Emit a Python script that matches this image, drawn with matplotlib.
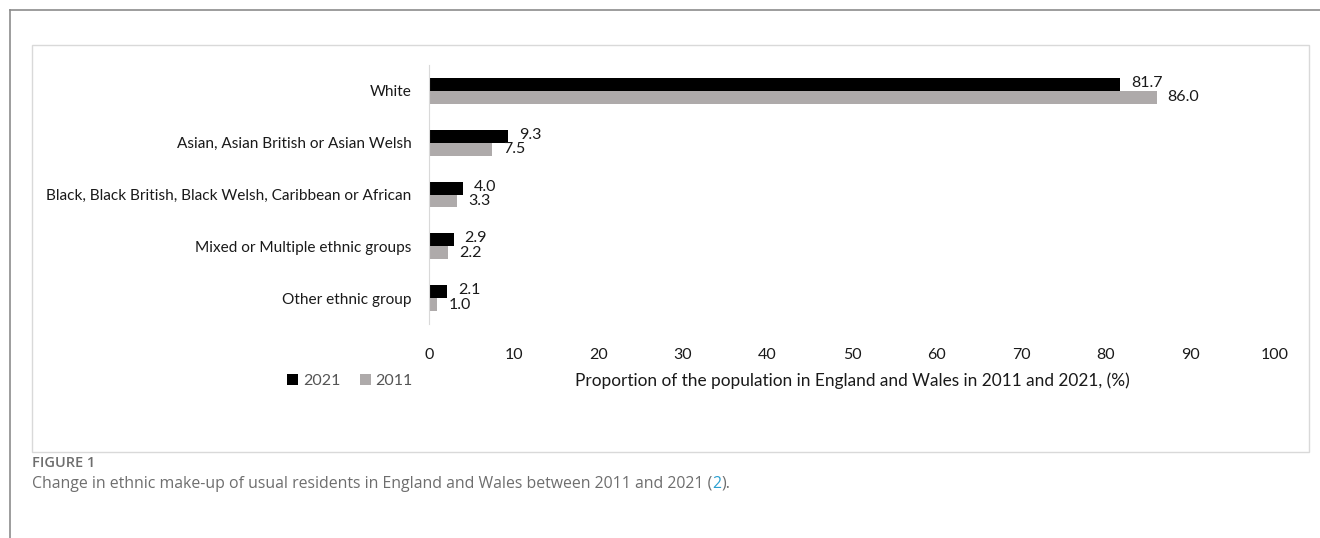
import matplotlib.pyplot as plt
import numpy as np
from matplotlib.patches import Rectangle
from matplotlib.lines import Line2D

groups = ['White', 'Asian, Asian British or Asian Welsh',
          'Black, Black British, Black Welsh, Caribbean or African',
          'Mixed or Multiple ethnic groups', 'Other ethnic group']
share_2021 = [81.7, 9.3, 4.0, 2.9, 2.1]
share_2011 = [86.0, 7.5, 3.3, 2.2, 1.0]
ticks = [0, 10, 20, 30, 40, 50, 60, 70, 80, 90, 100]

plt.rcParams['font.family'] = ['Lato', 'DejaVu Sans']
txt = '#1a1a1a'
fs = 11.5

fig = plt.figure(figsize=(13.2, 5.38), dpi=100)

# outer frame (top and left edges only) and inner light box
fig.add_artist(Line2D([10/1320, 1], [1-10/538, 1-10/538], color='#8c8c8c', lw=1.2))
fig.add_artist(Line2D([10/1320, 10/1320], [0, 1-10/538], color='#8c8c8c', lw=1.2))
fig.add_artist(Rectangle((32/1320, 1-452/538), (1309-32)/1320, (452-45)/538,
                         fill=False, ec='#d9d9d9', lw=1))

ax = fig.add_axes([429/1320, 1-324/538, (1275-429)/1320, 259/538])
y = np.arange(len(groups))
h = 0.25
ax.barh(y - h/2, share_2021, height=h, color='#000000', label='2021')
ax.barh(y + h/2, share_2011, height=h, color='#aeaaaa', label='2011')

for yi, v in zip(y, share_2021):
    ax.annotate(f'{v:.1f}', (v, yi - h/2), xytext=(8, 1), textcoords='offset points',
                va='center', ha='left', fontsize=fs, color=txt)
for yi, v in zip(y, share_2011):
    ax.annotate(f'{v:.1f}', (v, yi + h/2), xytext=(8, 0), textcoords='offset points',
                va='center', ha='left', fontsize=fs, color=txt)

ax.set_xlim(0, 100)
ax.set_ylim(len(groups) - 0.5, -0.5)
ax.set_yticks(y)
ax.set_yticklabels(groups, fontsize=11.1, color=txt)
ax.set_xticks(ticks)
ax.set_xticklabels([str(t) for t in ticks], fontsize=fs, color=txt)
ax.tick_params(axis='both', length=0)
ax.tick_params(axis='y', pad=12.5)
ax.tick_params(axis='x', pad=17)
for s in ['top', 'right', 'bottom']:
    ax.spines[s].set_visible(False)
ax.spines['left'].set_color('#d9d9d9')
ax.set_xlabel('Proportion of the population in England and Wales in 2011 and 2021, (%)',
              fontsize=12.4, color=txt, labelpad=8)

ax.legend(loc='center', bbox_to_anchor=(350/1320, 1-381/538), bbox_transform=fig.transFigure,
          ncol=2, frameon=False, fontsize=fs, handlelength=0.7, handleheight=0.7,
          handletextpad=0.3, columnspacing=1.2, labelcolor='#555555')

cap_font = ['Open Sans', 'DejaVu Sans']
fig.text(32/1320, 1-463/538, 'FIGURE 1', fontsize=10.5, color='#6e6e6e', fontweight='semibold',
         family=cap_font, va='center')
cap = fig.text(32/1320, 1-484/538,
               'Change in ethnic make-up of usual residents in England and Wales between 2011 and 2021 (',
               fontsize=11.4, color='#6e6e6e', family=cap_font, va='center')
fig.canvas.draw()
x2 = cap.get_window_extent().x1 / fig.bbox.width
t2 = fig.text(x2, 1-484/538, '2', fontsize=11.4, color='#2a9fd0', family=cap_font, va='center')
fig.canvas.draw()
x3 = t2.get_window_extent().x1 / fig.bbox.width
fig.text(x3, 1-484/538, ').', fontsize=11.4, color='#6e6e6e', family=cap_font, va='center')

fig.savefig('out.png', dpi=100)
